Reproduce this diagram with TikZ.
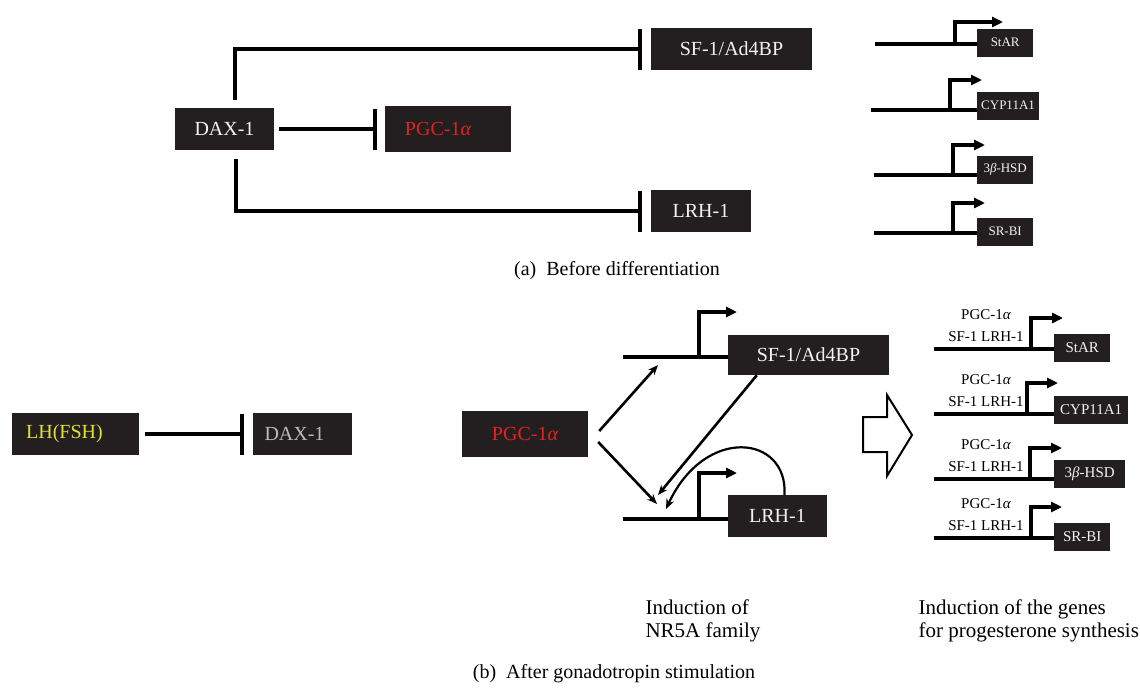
\documentclass[tikz,border=0pt]{standalone}
\usepackage{fontspec}
\setmainfont{Liberation Serif}
\usetikzlibrary{arrows.meta,positioning}
\definecolor{boxfill}{HTML}{231F20}
\definecolor{boxtext}{HTML}{F2F2F2}
\definecolor{pgcred}{HTML}{E2231A}
\definecolor{lhyellow}{HTML}{E3DF3A}
\definecolor{daxgray}{HTML}{BBBBBB}
\tikzset{
  blk/.style={fill=boxfill,text=boxtext,inner sep=0pt,font=\fontsize{20}{24}\selectfont},
  gbox/.style={blk,anchor=west,minimum height=28pt,inner xsep=4pt,font=\fontsize{13}{15}\selectfont},
  inhib/.style={line width=4pt,-{Bar[width=41pt]}},
  gene/.style={line width=4pt},
  prom/.style={line width=3.5pt,-{Triangle[length=11pt,width=10pt]}},
  act/.style={line width=2.6pt,-{Stealth[length=10pt,width=8pt]}},
  caption/.style={font=\fontsize{20}{24}\selectfont},
  small/.style={font=\fontsize{15}{17}\selectfont},
}
\begin{document}
\begin{tikzpicture}[x=1pt,y=-1pt]
\useasboundingbox (0,0) rectangle (1140,696);
% (a) before differentiation
\node[blk,minimum width=99pt,minimum height=42pt] (daxA) at (224.5,129) {DAX-1};
\node[blk,minimum width=126pt,minimum height=46pt,text=pgcred] (pgcA) at (448,129) {PGC-1{\itshape α}\hspace*{20pt}};
\node[blk,minimum width=161pt,minimum height=42pt] (sfA) at (731.5,49) {SF-1/Ad4BP};
\node[blk,minimum width=100pt,minimum height=42pt] (lrhA) at (701,211) {LRH-1};
\draw[inhib,shorten <=5pt,shorten >=8pt] (daxA) -- (pgcA);
\draw[inhib,shorten >=9pt] ([xshift=10pt,yshift=8pt]daxA.north) |- (sfA.west);
\draw[inhib,shorten >=9pt] ([xshift=11pt,yshift=-9pt]daxA.south) |- (lrhA.west);
\foreach \nm/\lbl/\yy/\by/\xs/\xp/\xt/\rise in {starA/StAR/44/42.5/875/955/1003/22,
    cypA/CYP11A1/110/105.5/871/950/982/30,
    hsdA/{3{\itshape β}-HSD}/175/169.5/874/953/985/30,
    srA/SR-BI/233/231.5/874/953/985/30} {
  \node[gbox,minimum width=56pt] (\nm) at (977,\by) {\lbl};
  \coordinate (\nm s) at (\xs,\yy);
  \draw[gene] (\nm s) -- (\nm s -| \nm.west);
  \draw[prom] (\xp,\yy) -- (\xp,\yy-\rise) -- (\xt,\yy-\rise);
}
\node[caption] (capA) at (617,271) {(a)\enspace Before differentiation};
% (b) after gonadotropin stimulation
\node[blk,minimum width=127pt,minimum height=42pt,text=lhyellow] (lhB) at (75.5,434) {LH(FSH)\hspace*{22pt}};
\node[blk,minimum width=99pt,minimum height=42pt,text=daxgray] (daxB) at (302.5,434) {DAX-1\hspace*{16pt}};
\draw[inhib,shorten <=6pt,shorten >=9pt] (lhB) -- (daxB);
\node[blk,minimum width=126pt,minimum height=46pt,text=pgcred] (pgcB) at (525,434) {PGC-1{\itshape α}};
\node[blk,minimum width=161pt,minimum height=40pt] (sfB) at (808.5,355) {SF-1/Ad4BP};
\node[blk,minimum width=99pt,minimum height=42pt] (lrhB) at (777.5,516) {LRH-1};
\coordinate (sfg) at (623,357);
\coordinate (lrhg) at (623,519);
\draw[gene] (sfg) -- (sfg -| sfB.west);
\draw[gene] (lrhg) -- (lrhg -| lrhB.west);
\draw[prom] (699,357) |- (737,312);
\draw[prom] (699,519) |- (737,473);
\coordinate (sfin) at (658,365);
\coordinate (lrhin) at (657,504);
\coordinate (lrhin2) at (658,495);
\coordinate (lrhin3) at (666,509);
\draw[act] ([xshift=11pt,yshift=3pt]pgcB.east) -- (sfin);
\draw[act] ([xshift=10pt,yshift=-8pt]pgcB.east) -- (lrhin);
\draw[act] ([xshift=29pt]sfB.south west) -- (lrhin2);
\draw[act,line width=2.2pt] ([xshift=7pt]lrhB.north) .. controls (788,435) and (705,425) .. (lrhin3);
% big open arrow
\draw[line width=2pt,line join=miter] (863,417) -- (887,417) -- (887,395) -- (912,435)
  -- (887,476) -- (887,452) -- (863,452) -- cycle;
\foreach \nm/\lbl/\yy/\by/\xp/\xt/\bw in {starB/StAR/349/347.5/1031/1063/56,
    cypB/CYP11A1/414/409.5/1027/1058/74,
    hsdB/{3{\itshape β}-HSD}/479/473.5/1030/1062/71,
    srB/SR-BI/538/537/1031/1062/56} {
  \node[gbox,minimum width=\bw pt,font=\fontsize{15}{17}\selectfont] (\nm) at (1054,\by) {\lbl};
  \coordinate (\nm s) at (934,\yy);
  \draw[gene] (\nm s) -- (\nm s -| \nm.west);
  \draw[prom] (\xp,\yy) -- (\xp,\yy-31) -- (\xt,\yy-31);
  \node[small] (\nm p) at (986,\yy-34) {PGC-1{\itshape α}};
  \node[small] (\nm f) at (986,\yy-12) {SF-1 LRH-1};
}
\node[caption,anchor=north west,align=left,font=\fontsize{21}{23}\selectfont] (nrtxt) at (642,596) {Induction of\\NR5A family};
\node[caption,anchor=north west,align=left,font=\fontsize{21}{23}\selectfont] (progtxt) at (915,596) {Induction of the genes\\for progesterone synthesis};
\node[caption] (capB) at (614,674) {(b)\enspace After gonadotropin stimulation};
\end{tikzpicture}
\end{document}
